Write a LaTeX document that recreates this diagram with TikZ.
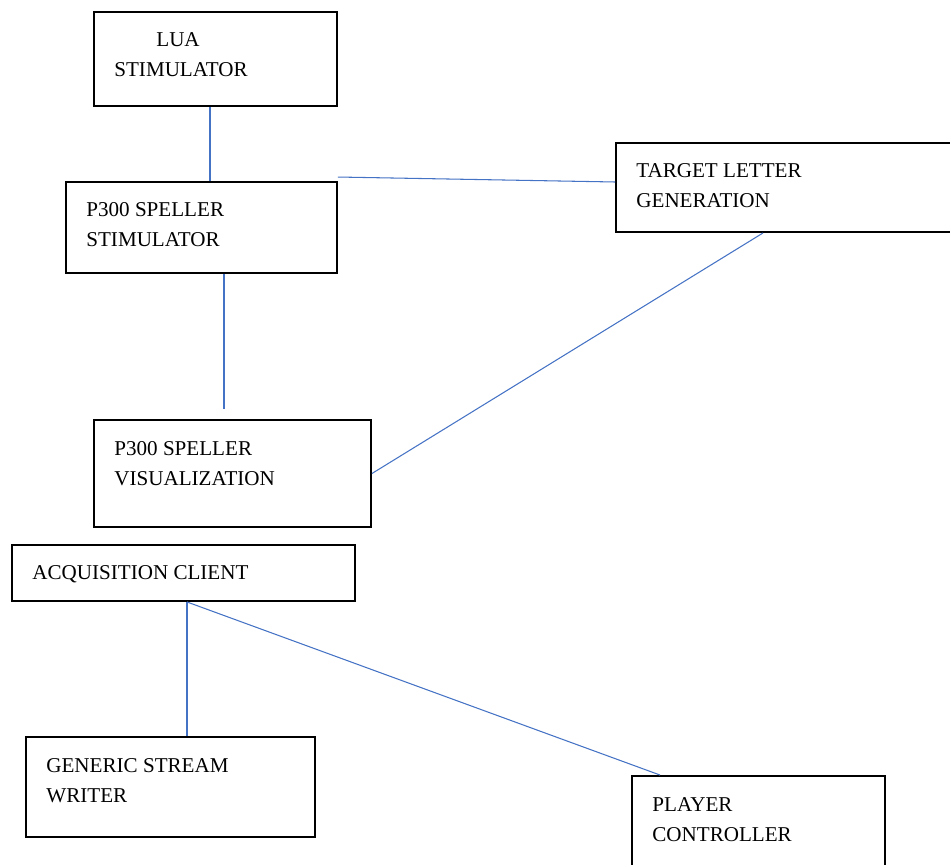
\documentclass[tikz,border=0pt]{standalone}
\usepackage{fontspec}
\setmainfont{Liberation Serif}
\usetikzlibrary{positioning}
\definecolor{linkblue}{HTML}{4472C4}

\begin{document}
\begin{tikzpicture}[box/.style={draw, line width=1.1pt, inner sep=0pt},
    lbl/.style={inner sep=0pt, align=left, font=\fontsize{12}{17}\selectfont},
    link/.style={draw=linkblue, line width=0.6pt}]
        \clip (0,0) rectangle (19,-17.3);
        \node[box, minimum width=4.86cm, minimum height=1.88cm] (lua) at (4.31,-1.18) {};
        \node[box, minimum width=5.42cm, minimum height=1.82cm] (stim) at (4.03,-4.55) {};
        \node[box, minimum width=6.88cm, minimum height=1.78cm] (target) at (15.76,-3.75) {};
        \node[box, minimum width=5.54cm, minimum height=2.14cm] (vis) at (4.65,-9.47) {};
        \node[box, minimum width=6.86cm, minimum height=1.12cm] (acq) at (3.67,-11.46) {};
        \node[box, minimum width=5.78cm, minimum height=2.00cm] (writer) at (3.41,-15.74) {};
        \node[box, minimum width=5.06cm, minimum height=2.08cm] (player) at (15.17,-16.56) {};
        \node[lbl, below right=4.3mm and 4.2mm of lua.north west] (luatxt) {\hspace*{0.84cm}LUA\\STIMULATOR};
        \node[lbl, below right=4.3mm and 4.2mm of stim.north west] (stimtxt) {P300 SPELLER\\STIMULATOR};
        \node[lbl, below right=4.3mm and 4.2mm of target.north west] (targettxt) {TARGET LETTER\\GENERATION};
        \node[lbl, below right=4.5mm and 4.2mm of vis.north west] (vistxt) {P300 SPELLER\\VISUALIZATION};
        \node[lbl, below right=4.3mm and 4.2mm of acq.north west] (acqtxt) {ACQUISITION CLIENT};
        \node[lbl, below right=4.4mm and 4.2mm of writer.north west] (writertxt) {GENERIC STREAM\\WRITER};
        \node[lbl, below right=4.5mm and 4.2mm of player.north west] (playertxt) {PLAYER\\CONTROLLER};
        \coordinate (luaout) at ([xshift=-1.1mm]lua.south);
        \coordinate (stimout) at ([xshift=4.5mm]stim.south);
        \coordinate (visgap) at ([yshift=2mm]stimout |- vis.north);
        \coordinate (acqout) at ([xshift=0.7mm]acq.south);
        \draw[link] (luaout) -- (luaout |- stim.north);
        \draw[link] ([yshift=0.8mm]stim.north east) -- ([yshift=1.1mm]target.west);
        \draw[link] (stimout) -- (visgap);
        \draw[link] ([xshift=-5mm]target.south) -- (vis.east);
        \draw[link] (acqout) -- (acqout |- writer.north);
        \draw[link] (acqout) -- ([xshift=-19.7mm]player.north);
    \end{tikzpicture}
\end{document}
